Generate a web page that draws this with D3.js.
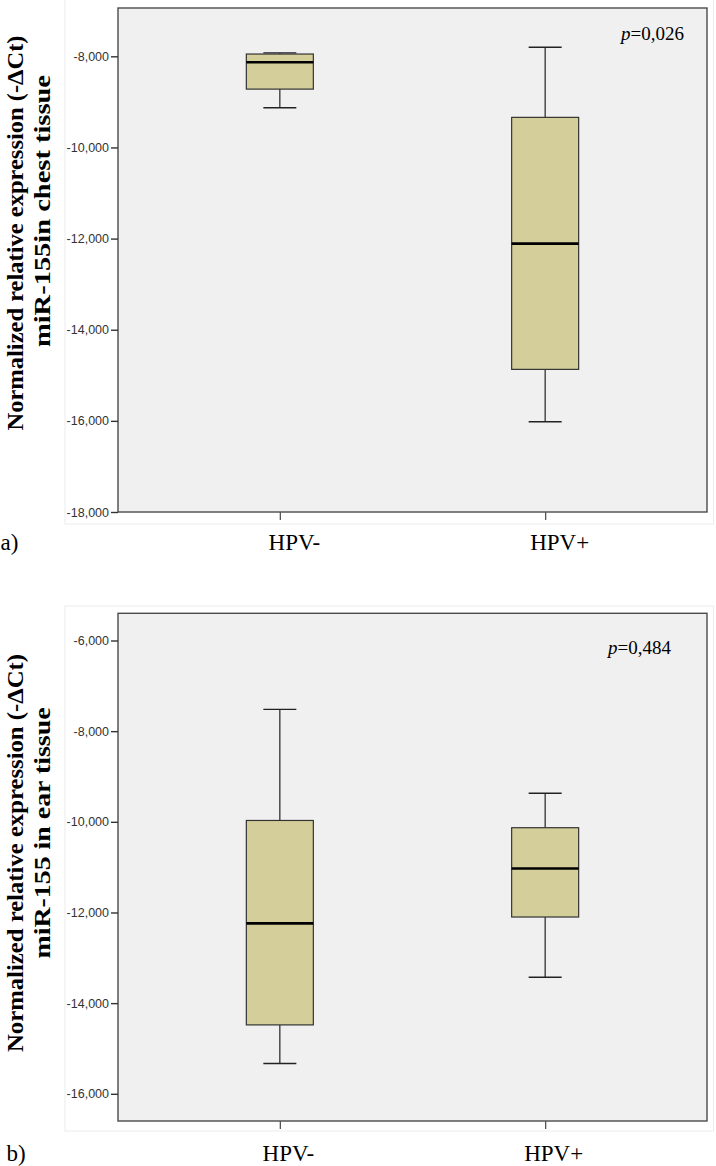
<!DOCTYPE html>
<html>
<head>
<meta charset="utf-8">
<script src="https://cdn.jsdelivr.net/npm/d3@7"></script>
<style>
  html, body { margin: 0; padding: 0; background: #ffffff; }
  svg { display: block; }
</style>
</head>
<body>
<svg id="chart" width="716" height="1166"></svg>
<script>
// ---------- DATA ----------
const categories = ["HPV-", "HPV+"];

// Panel a) chest tissue
const chestMin    = [-9130, -16020];
const chestQ1     = [-8720, -14870];
const chestMedian = [-8130, -12110];
const chestQ3     = [-7950, -9340];
const chestMax    = [-7925, -7800];
const chestTicks  = [-18000, -16000, -14000, -12000, -10000, -8000];
const chestDomain = [-18000, -6940];
const chestTitle  = ["Normalized relative expression (-\u0394Ct)", "miR-155in chest tissue"];
const chestP      = "0,026";

// Panel b) ear tissue
const earMin    = [-15330, -13430];
const earQ1     = [-14480, -12100];
const earMedian = [-12240, -11030];
const earQ3     = [-9970, -10130];
const earMax    = [-7520, -9370];
const earTicks  = [-16000, -14000, -12000, -10000, -8000, -6000];
const earDomain = [-16600, -5400];
const earTitle  = ["Normalized relative expression (-\u0394Ct)", "miR-155 in ear tissue"];
const earP      = "0,484";

// ---------- DRAW ----------
const svg = d3.select("#chart");
const serif = "'Liberation Serif', 'Times New Roman', Times, serif";
const sans = "'Liberation Sans', Arial, Helvetica, sans-serif";
const locale = d3.formatLocale({decimal: ".", thousands: ",", grouping: [3], currency: ["$", ""], minus: "-"});
const fmt = locale.format(",");

function panel(cfg) {
  const g = svg.append("g");
  const left = 118, right = 707;

  // faint outer chart region
  g.append("rect")
    .attr("x", cfg.regionX).attr("y", cfg.regionTop)
    .attr("width", 713.5 - cfg.regionX).attr("height", cfg.regionBottom - cfg.regionTop)
    .attr("fill", "none").attr("stroke", "#ececec").attr("stroke-width", 1);

  const y = d3.scaleLinear().domain(cfg.domain).range([cfg.bottom, cfg.top]);
  const x = d3.scalePoint().domain(categories).range([left, right]).padding(0.61);

  // plot background + frame
  g.append("rect")
    .attr("x", left).attr("y", cfg.top)
    .attr("width", right - left).attr("height", cfg.bottom - cfg.top)
    .attr("fill", "#f0f0f0").attr("stroke", "#4a4a4a").attr("stroke-width", 1.4);

  // y axis
  const ya = g.append("g").attr("transform", `translate(${left},0)`)
    .call(d3.axisLeft(y).tickValues(cfg.ticks).tickFormat(fmt).tickSize(7).tickPadding(2));
  ya.select(".domain").remove();
  ya.selectAll(".tick line").attr("stroke", "#333").attr("stroke-width", 1.4);
  ya.selectAll(".tick text").attr("font-family", sans).attr("font-size", 12.5).attr("fill", "#333");

  // x axis
  const xa = g.append("g").attr("transform", `translate(0,${cfg.bottom})`)
    .call(d3.axisBottom(x).tickSize(8).tickPadding(0));
  xa.select(".domain").remove();
  xa.selectAll(".tick line").attr("stroke", "#555").attr("stroke-width", 1.3);
  xa.selectAll(".tick text")
    .attr("font-family", serif).attr("font-size", 23).attr("fill", "#000")
    .attr("y", cfg.labelDy).attr("dy", 0).attr("dx", cfg.labelDx);

  // boxes
  const bw = 67, cw = 33;
  const idx = d3.range(categories.length);
  const bx = g.append("g");
  idx.forEach(i => {
    const cx = x(categories[i]);
    // whiskers
    bx.append("line").attr("x1", cx).attr("x2", cx)
      .attr("y1", y(cfg.max[i])).attr("y2", y(cfg.q3[i]))
      .attr("stroke", "#222").attr("stroke-width", 1.2);
    bx.append("line").attr("x1", cx).attr("x2", cx)
      .attr("y1", y(cfg.q1[i])).attr("y2", y(cfg.min[i]))
      .attr("stroke", "#222").attr("stroke-width", 1.2);
    bx.append("line").attr("x1", cx - cw / 2).attr("x2", cx + cw / 2)
      .attr("y1", y(cfg.max[i])).attr("y2", y(cfg.max[i]))
      .attr("stroke", "#222").attr("stroke-width", 1.4);
    bx.append("line").attr("x1", cx - cw / 2).attr("x2", cx + cw / 2)
      .attr("y1", y(cfg.min[i])).attr("y2", y(cfg.min[i]))
      .attr("stroke", "#222").attr("stroke-width", 1.4);
    // box
    bx.append("rect")
      .attr("x", cx - bw / 2).attr("y", y(cfg.q3[i]))
      .attr("width", bw).attr("height", y(cfg.q1[i]) - y(cfg.q3[i]))
      .attr("fill", "#d4cf9a").attr("stroke", "#333").attr("stroke-width", 1.2);
    // median
    bx.append("line").attr("x1", cx - bw / 2).attr("x2", cx + bw / 2)
      .attr("y1", y(cfg.median[i])).attr("y2", y(cfg.median[i]))
      .attr("stroke", "#000").attr("stroke-width", 2.6);
  });

  // p value
  const pt = g.append("text")
    .attr("x", cfg.pX).attr("y", cfg.pY)
    .attr("text-anchor", "end")
    .attr("font-family", serif).attr("font-size", 19).attr("fill", "#000");
  pt.append("tspan").attr("font-style", "italic").text("p");
  pt.append("tspan").text("=" + cfg.p);

  // y titles
  g.append("text")
    .attr("transform", `translate(22.5,${cfg.t1c}) rotate(-90)`)
    .attr("text-anchor", "middle")
    .attr("font-family", serif).attr("font-weight", "bold").attr("font-size", 24)
    .attr("textLength", cfg.t1len).attr("lengthAdjust", "spacingAndGlyphs")
    .text(cfg.title[0]);
  g.append("text")
    .attr("transform", `translate(50,${cfg.t2c}) rotate(-90)`)
    .attr("text-anchor", "middle")
    .attr("font-family", serif).attr("font-weight", "bold").attr("font-size", 24)
    .attr("textLength", cfg.t2len).attr("lengthAdjust", "spacingAndGlyphs")
    .text(cfg.title[1]);

  // panel letter
  g.append("text")
    .attr("x", cfg.letterX).attr("y", cfg.letterY)
    .attr("font-family", serif).attr("font-size", 23).attr("fill", "#000")
    .text(cfg.letter);
}

panel({
  domain: chestDomain, ticks: chestTicks, top: 8, bottom: 512,
  min: chestMin, q1: chestQ1, median: chestMedian, q3: chestQ3, max: chestMax,
  p: chestP, pX: 684, pY: 39.5,
  title: chestTitle, t1c: 233, t1len: 395, t2c: 211, t2len: 272,
  labelDy: 38, labelDx: 14,
  letter: "a)", letterX: 0.5, letterY: 550,
  regionX: 65, regionTop: -2, regionBottom: 524
});

panel({
  domain: earDomain, ticks: earTicks, top: 613.3, bottom: 1121,
  min: earMin, q1: earQ1, median: earMedian, q3: earQ3, max: earMax,
  p: earP, pX: 671, pY: 654,
  title: earTitle, t1c: 853, t1len: 398, t2c: 833, t2len: 251,
  labelDy: 39.5, labelDx: 8,
  letter: "b)", letterX: 6.5, letterY: 1160.5,
  regionX: 65, regionTop: 606, regionBottom: 1131
});
</script>
</body>
</html>
